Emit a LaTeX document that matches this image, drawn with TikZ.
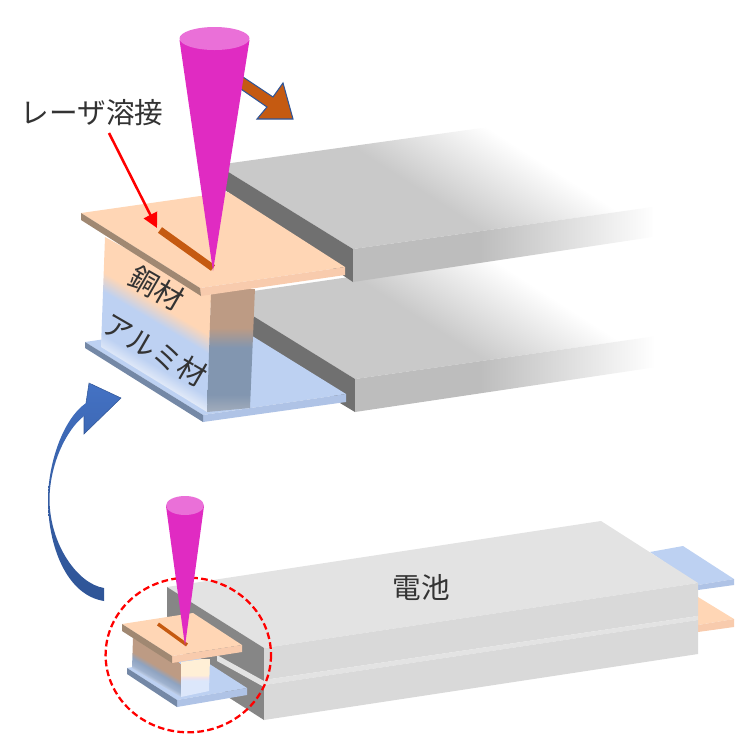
\documentclass[tikz,border=0pt]{standalone}
\usepackage{fontspec}
\usetikzlibrary{arrows.meta}
\newfontfamily\cjk{Noto Sans CJK JP}
\definecolor{peach}{HTML}{FFD6B5}
\definecolor{peachfront}{HTML}{F8CBAD}
\definecolor{peachside}{HTML}{A08872}
\definecolor{skyblue}{HTML}{BDD1F2}
\definecolor{skyfront}{HTML}{AFC3E6}
\definecolor{slate}{HTML}{7488A6}
\definecolor{slatelight}{HTML}{A3ADBC}
\definecolor{slatemid}{HTML}{8296B0}
\definecolor{tan}{HTML}{BD9B84}
\definecolor{weld}{HTML}{C55A11}
\definecolor{beam}{HTML}{E02BC2}
\definecolor{beamtop}{HTML}{EA70D8}
\definecolor{arrowblue}{HTML}{4472C4}
\definecolor{arrowdark}{HTML}{2F5597}
\definecolor{gdark}{HTML}{707070}
\definecolor{gtop}{HTML}{C9C9C9}
\definecolor{gfront}{HTML}{BDBDBD}
\definecolor{battop}{HTML}{E3E3E3}
\definecolor{batfront}{HTML}{D9D9D9}
\definecolor{batside}{HTML}{868686}
\definecolor{paleblue}{HTML}{E8EEF9}
\definecolor{cream}{HTML}{FFEFD6}
\definecolor{pinkish}{HTML}{F0E2EA}
\definecolor{iceblue}{HTML}{DCE7FB}
\definecolor{midblue}{HTML}{C5D5F0}
\definecolor{smallslate}{HTML}{8FA3C0}
\pgfdeclareverticalshading{topfade}{100bp}{color(0bp)=(gtop); color(33.33bp)=(gtop); color(50bp)=(white); color(100bp)=(white)}
\pgfdeclareverticalshading{frontfade}{100bp}{color(0bp)=(gfront); color(33.33bp)=(gfront); color(66.67bp)=(white); color(100bp)=(white)}
\pgfdeclareverticalshading{bigface}{100bp}{color(0bp)=(peach); color(34bp)=(peach); color(48bp)=(skyblue); color(79bp)=(skyblue); color(92bp)=(paleblue); color(100bp)=(paleblue)}
\pgfdeclareverticalshading{bigfront}{100bp}{color(0bp)=(slatelight); color(14bp)=(slatemid); color(52bp)=(slatemid); color(68bp)=(tan); color(100bp)=(tan)}
\pgfdeclareverticalshading{curveblue}{100bp}{color(0bp)=(arrowdark); color(50bp)=(arrowdark!70!arrowblue); color(100bp)=(arrowblue)}
\pgfdeclareverticalshading{smallface}{100bp}{color(0bp)=(tan); color(44bp)=(tan); color(62bp)=(smallslate); color(80bp)=(smallslate!70!midblue); color(100bp)=(iceblue)}
\pgfdeclareverticalshading{smallfront}{100bp}{color(0bp)=(iceblue); color(42bp)=(iceblue); color(50bp)=(pinkish); color(56bp)=(cream); color(100bp)=(cream)}
\newcommand\gradpoly[6]{%
  \begin{scope}
    \clip #1;
    \pgfmathsetmacro\gx{(#2+#4)/2}
    \pgfmathsetmacro\gy{(#3+#5)/2}
    \pgfmathsetmacro\ga{atan2(-(#4-#2),-(#5-#3))}
    \pgfmathsetmacro\gs{veclen(#4-#2,#5-#3)*0.75/100.375}
    \node[inner sep=0pt,outer sep=0pt,transform canvas={shift={(\gx,\gy)},rotate=\ga,yscale=\gs,xscale=12}]{\pgfuseshading{#6}};
  \end{scope}}
\tikzset{
  lbl/.style={font=\cjk\fontsize{21.5}{21.5}\selectfont,text=black!80,inner sep=0pt},
  weldline/.style={draw=weld,line cap=butt},
}
\begin{document}
\begin{tikzpicture}[x=0.75pt,y=-0.75pt]
\useasboundingbox (0,0) rectangle (744,740);
% ---------- upper picture: lower busbar
\gradpoly{(219,296)--(521,252)--(657,336)--(355,379)--cycle}{259}{427}{547}{-23}{topfade}
\fill[gdark] (219,295)--(355,379)--(355,412)--(340,403)--(219,320)--cycle;
\gradpoly{(355,379)--(657,336)--(657,367)--(355,412)--cycle}{305}{400}{830}{400}{frontfade}
% blue base plate
\fill[skyblue] (85,342)--(228,321)--(346,394)--(203,415)--cycle;
\fill[skyfront] (203,415)--(346,394)--(346,402)--(203,422)--cycle;
\fill[slate] (85,342)--(203,415)--(203,422)--(85,348)--cycle;
% ---------- upper busbar
\gradpoly{(217,165)--(517,123)--(653,207)--(353,249)--cycle}{257}{297}{545}{-153}{topfade}
\fill[gdark] (217,165)--(353,249)--(353,282)--(341,274)--(225,190)--cycle;
\gradpoly{(353,249)--(653,207)--(653,237)--(353,282)--cycle}{305}{300}{830}{300}{frontfade}
% block
\gradpoly{(105,237)--(211,295)--(207,412)--(101,347)--cycle}{110}{228.4}{48.8}{331.6}{bigface}
\gradpoly{(211,293)--(255,288)--(250,408)--(207,412)--cycle}{230}{412}{230}{288}{bigfront}
% copper plate
\fill[peach] (81,213)--(228,192)--(345,267)--(200,288)--cycle;
\fill[peachfront] (200,288)--(345,267)--(345,275)--(201,296)--cycle;
\fill[peachside] (81,213)--(200,288)--(201,296)--(81,220)--cycle;
% weld line
\coordinate (weldA) at (160,230);
\coordinate (weldB) at (213,268);
\draw[weldline,line width=5.2pt] (weldA)--(weldB);
% motion arrow
\draw[fill=weld,draw=arrowdark,line width=0.8pt] (240,75)--(273,97)--(283,83)--(293,119)--(257,119)--(267,107)--(238,87)--cycle;
% big beam
\fill[beam] (179.5,40)--(249.5,40)--(213,271)--cycle;
\fill[beamtop] (214.5,38.5) ellipse [x radius=35,y radius=11.5];
% labels
\node[lbl] (laser) at (92,113) {レーザ溶接};
\coordinate (laserfoot) at (109,133);
\coordinate (lasertip) at (157,228);
\draw[red,line width=1.9pt,-{Triangle[length=11pt,width=11pt]}] (laserfoot)--(lasertip);
\node[lbl,rotate=-30] (copper) at (157,288) {銅材};
\node[lbl,rotate=-30] (alu) at (155,350) {アルミ材};
% curved arrow
\gradpoly{(89,383)--(121,398)--(84,434)--(84,416)
  .. controls (66,430) and (49.5,465) .. (49.5,500)
  .. controls (50,545) and (78,584) .. (104,588)
  --(104,601)
  .. controls (66,595) and (48,545) .. (48,500)
  .. controls (48,465) and (62,420) .. (86,403)--cycle}{70}{602}{70}{383}{curveblue}
\draw[arrowdark,line width=0.4pt] (86,403)--(89,383)--(121,398)--(84,434)--(84,416);
% ---------- battery
\fill[skyblue] (650,552)--(683,546)--(734,579)--(698,585)--cycle;
\fill[skyfront] (698,585)--(734,579)--(734,585)--(698,590)--cycle;
\fill[peach] (690,597)--(698,597)--(734,619)--(698,625)--cycle;
\fill[peachfront] (698,625)--(734,619)--(734,627)--(698,632)--cycle;
\fill[battop] (167,587)--(601,521)--(698,583)--(264,648)--cycle;
\fill[batside] (167,587)--(264,648)--(264,720)--(228,697)--(190,660)--(167,625)--cycle;
\fill[batfront] (264,648)--(698,583)--(698,616)--(264,680)--cycle;
\fill[battop] (264,680)--(698,616)--(698,620)--(264,685)--cycle;
\fill[batfront] (264,685)--(698,620)--(698,654)--(264,720)--cycle;
\fill[battop] (217,655)--(264,681)--(264,687)--(217,661)--cycle;
\node[lbl] (cell) at (421,588) {電池};
% small base
\fill[skyblue] (127,668)--(197,656)--(247,688)--(177,700)--cycle;
\fill[skyfront] (177,700)--(247,688)--(247,695)--(177,707)--cycle;
\fill[slate] (127,668)--(177,700)--(177,707)--(127,674)--cycle;
% small block
\gradpoly{(133,638)--(181,662)--(181,697)--(132,668)--cycle}{134}{636.3}{118}{663.8}{smallface}
\gradpoly{(181,662)--(210,658)--(209,691)--(181,697)--cycle}{195}{697}{195}{658}{smallfront}
% small copper plate
\fill[peach] (122,624)--(193,613)--(242,645)--(172,656)--cycle;
\fill[peachfront] (172,656)--(242,645)--(242,652)--(172,663)--cycle;
\fill[peachside] (122,624)--(172,656)--(172,663)--(122,631)--cycle;
\coordinate (smallweldA) at (158,624);
\coordinate (smallweldB) at (187,645);
\draw[weldline,line width=2.6pt] (smallweldA)--(smallweldB);
% dashed circle
\draw[red,line width=1.7pt,dash pattern=on 5pt off 2.5pt] (188.3,655) ellipse [x radius=82.7,y radius=77.3];
% small beam
\fill[beam] (166,506)--(204,506)--(185,646)--cycle;
\fill[beamtop] (185,505.5) ellipse [x radius=19,y radius=9.5];
\end{tikzpicture}
\end{document}
